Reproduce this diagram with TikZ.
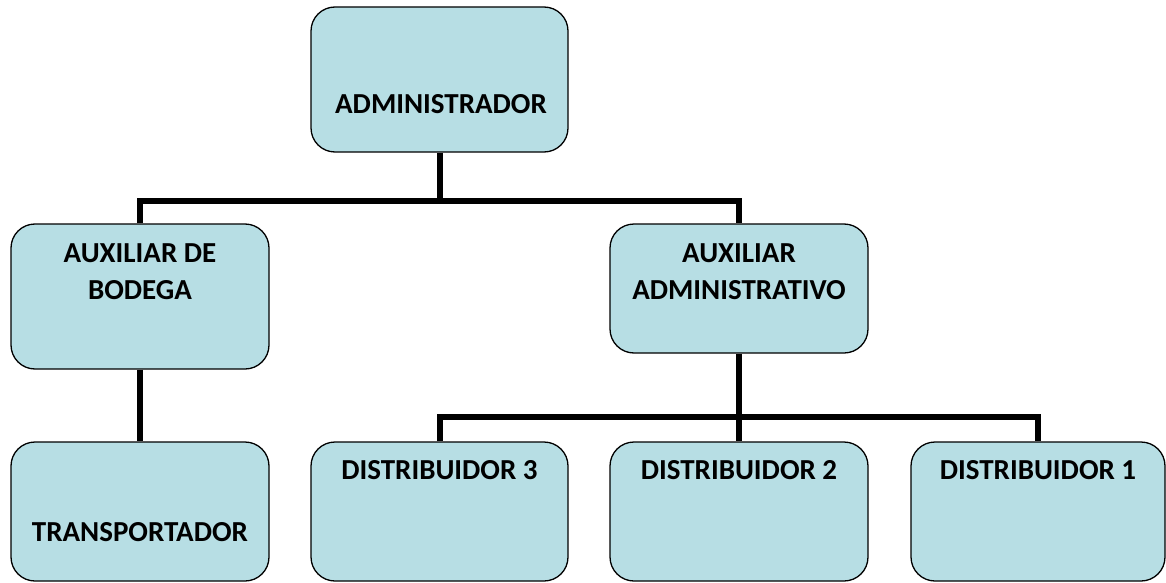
\documentclass[tikz,border=0pt]{standalone}
\usepackage{fontspec}
\setmainfont{Carlito}
\usetikzlibrary{backgrounds}
\definecolor{boxfill}{RGB}{183,222,228}
\tikzset{
  orgbox/.style={draw=black, line width=1.3pt, fill=boxfill, rounded corners=24pt, inner sep=0pt},
  orgtext/.style={font=\fontsize{29}{37}\selectfont\bfseries, inner sep=0pt, anchor=north, align=center},
  link/.style={line width=6pt, draw=black, line join=miter}
}
\begin{document}
\begin{tikzpicture}[x=1pt,y=-1pt]
\useasboundingbox (0,0) rectangle (1166,583);
% boxes
\node[orgbox, minimum width=257pt, minimum height=145pt] (admin) at (439.5,79.5) {};
\node[orgbox, minimum width=258pt, minimum height=145pt] (auxb) at (140,296.5) {};
\node[orgbox, minimum width=258pt, minimum height=129pt] (auxa) at (739,288.5) {};
\node[orgbox, minimum width=258pt, minimum height=139pt] (trans) at (140,511.5) {};
\node[orgbox, minimum width=257pt, minimum height=139pt] (d3) at (439.5,511.5) {};
\node[orgbox, minimum width=258pt, minimum height=139pt] (d2) at (739,511.5) {};
\node[orgbox, minimum width=254pt, minimum height=139pt] (d1) at (1038,511.5) {};
% texts
\node[orgtext] (tadmin) at (441,94) {ADMINISTRADOR};
\node[orgtext] (tauxb) at (140,243) {AUXILIAR DE\\BODEGA};
\node[orgtext] (tauxa) at (739,243) {AUXILIAR\\ADMINISTRATIVO};
\node[orgtext] (ttrans) at (140,522) {TRANSPORTADOR};
\node[orgtext] (td3) at (439.5,460) {DISTRIBUIDOR 3};
\node[orgtext] (td2) at (739,460) {DISTRIBUIDOR 2};
\node[orgtext] (td1) at (1038,460) {DISTRIBUIDOR 1};
% junctions
\coordinate (j1) at (439.5,201);
\coordinate (j2) at (739,417);
\begin{pgfonlayer}{background}
\draw[link] (admin.south) -- (j1);
\draw[link] (auxb.north) |- (j1) -| (auxa.north);
\draw[link] (auxb.south) -- (trans.north);
\draw[link] (auxa.south) -- (j2);
\draw[link] (d3.north) |- (j2) -| (d1.north);
\draw[link] (j2) -- (d2.north);
\end{pgfonlayer}
\end{tikzpicture}
\end{document}
